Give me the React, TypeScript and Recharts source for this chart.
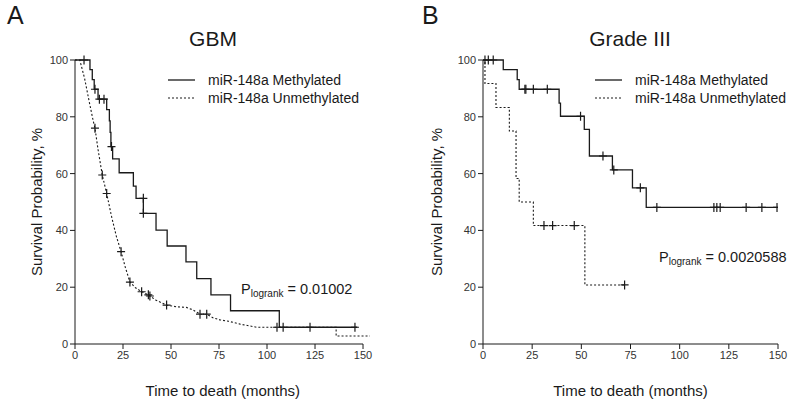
import React from "react";
import {
  ComposedChart,
  Line,
  Scatter,
  XAxis,
  YAxis,
  ReferenceLine,
} from "recharts";

// survival curves (t = months, s = survival %)
const gbmMethylated = [
  { t: 0, s: 100 }, { t: 7.8, s: 96.6 }, { t: 9, s: 93.1 }, { t: 10, s: 89.7 },
  { t: 12, s: 86.2 }, { t: 16.5, s: 82.5 }, { t: 17.9, s: 78.6 }, { t: 18.3, s: 74.5 },
  { t: 18.7, s: 69.5 }, { t: 19.6, s: 65.2 }, { t: 23, s: 60.3 }, { t: 30.4, s: 55.6 },
  { t: 31.8, s: 51.3 }, { t: 35.6, s: 46 }, { t: 42.2, s: 40.1 }, { t: 48, s: 34.5 },
  { t: 57.8, s: 28.9 }, { t: 63.4, s: 23 }, { t: 70.8, s: 17.3 }, { t: 81, s: 11.7 },
  { t: 106.4, s: 5.9 }, { t: 147, s: 5.9 },
];
const gbmMethylatedCens = [
  { t: 4.7, s: 100 }, { t: 10.4, s: 89.7 }, { t: 12.7, s: 86.2 }, { t: 15.1, s: 86.2 },
  { t: 19, s: 69.5 }, { t: 35.6, s: 51.3 }, { t: 35.6, s: 46 }, { t: 105.2, s: 5.9 },
  { t: 108.4, s: 5.9 }, { t: 122.4, s: 5.9 }, { t: 145.8, s: 5.9 },
];
const gbmUnmethylated = [
  { t: 0, s: 100 }, { t: 2.5, s: 100 }, { t: 5, s: 93.5 }, { t: 7.5, s: 85 },
  { t: 9.5, s: 78.5 }, { t: 10.4, s: 76 }, { t: 12, s: 68.5 }, { t: 14.2, s: 59.5 },
  { t: 16.5, s: 53 }, { t: 19, s: 45 }, { t: 21.5, s: 38 }, { t: 24, s: 32.5 },
  { t: 26.2, s: 27 }, { t: 28.6, s: 21.8 }, { t: 31.5, s: 19.8 }, { t: 34.7, s: 18.4 },
  { t: 38.2, s: 17.3 }, { t: 42, s: 15.5 }, { t: 47.7, s: 13.7 }, { t: 53, s: 13.1 },
  { t: 58, s: 12.9 }, { t: 61.5, s: 12 }, { t: 65.1, s: 10.5 }, { t: 68.6, s: 10.5 },
  { t: 72, s: 9.2 }, { t: 75.5, s: 8.5 }, { t: 80, s: 8 }, { t: 86, s: 7 },
  { t: 94.6, s: 5.9 }, { t: 136, s: 5.9 }, { t: 136, s: 2.8 }, { t: 153.6, s: 2.8 },
];
const gbmUnmethylatedCens = [
  { t: 10.4, s: 76 }, { t: 14.2, s: 59.5 }, { t: 16.5, s: 53 }, { t: 24, s: 32.5 },
  { t: 28.6, s: 21.8 }, { t: 34.7, s: 18.4 }, { t: 38.2, s: 17.3 }, { t: 39, s: 16.9 },
  { t: 47.7, s: 13.7 }, { t: 65.1, s: 10.5 }, { t: 68.6, s: 10.5 },
];

const g3Methylated = [
  { t: 0, s: 100 }, { t: 10.3, s: 96.6 }, { t: 17.4, s: 93.1 }, { t: 18.4, s: 89.7 },
  { t: 38.7, s: 84.8 }, { t: 39.4, s: 80.2 }, { t: 51.5, s: 75.6 }, { t: 54.1, s: 66.2 },
  { t: 65.8, s: 61.3 }, { t: 76, s: 55 }, { t: 83, s: 48.1 }, { t: 150, s: 48.1 },
];
const g3MethylatedCens = [
  { t: 1, s: 100 }, { t: 2.7, s: 100 }, { t: 5.2, s: 100 }, { t: 21.3, s: 89.7 },
  { t: 21.8, s: 89.7 }, { t: 25.6, s: 89.7 }, { t: 32.7, s: 89.7 }, { t: 49.6, s: 80.2 },
  { t: 61, s: 66.2 }, { t: 66.5, s: 61.3 }, { t: 80, s: 55 }, { t: 88.4, s: 48.1 },
  { t: 117.4, s: 48.1 }, { t: 118.9, s: 48.1 }, { t: 120.6, s: 48.1 }, { t: 133.8, s: 48.1 },
  { t: 141.8, s: 48.1 }, { t: 149.5, s: 48.1 },
];
const g3Unmethylated = [
  { t: 0, s: 100 }, { t: 1, s: 91.7 }, { t: 6.6, s: 83.3 }, { t: 13.4, s: 75 },
  { t: 16.8, s: 58.3 }, { t: 18.4, s: 50 }, { t: 25.6, s: 41.7 }, { t: 51.8, s: 20.8 },
  { t: 72, s: 20.8 },
];
const g3UnmethylatedCens = [
  { t: 31, s: 41.7 }, { t: 35.4, s: 41.7 }, { t: 46.4, s: 41.7 }, { t: 72, s: 20.8 },
];

const xTicks = [0, 25, 50, 75, 100, 125, 150];
const yTicks = [0, 20, 40, 60, 80, 100];

const FONT = "'Liberation Sans', Arial, Helvetica, sans-serif";
const INK = "#1a1a1a";

const Cross = (props: any) => {
  const { cx, cy } = props;
  if (cx == null || cy == null) return null;
  return (
    <path
      d={`M${cx - 4},${cy}H${cx + 4}M${cx},${cy - 4.5}V${cy + 4.5}`}
      stroke={INK}
      strokeWidth={1.2}
      fill="none"
    />
  );
};

interface PanelProps {
  left: number;
  letter: string;
  title: string;
  titleX: number;
  xMax: number;
  yAxisWidth: number;
  marginRight: number;
  methylated: { t: number; s: number }[];
  methylatedCens: { t: number; s: number }[];
  unmethylated: { t: number; s: number }[];
  unmethylatedCens: { t: number; s: number }[];
  smoothUnmeth: boolean;
  legendX: number;
  pValue: string;
  pX: number;
  pY: number;
}

function Panel(p: PanelProps) {
  return (
    <div style={{ position: "absolute", left: p.left, top: 0, width: 400, height: 407 }}>
      <ComposedChart
        width={400}
        height={407}
        margin={{ top: 60, right: p.marginRight, bottom: 0, left: 0 }}
      >
        <XAxis
          type="number"
          dataKey="t"
          domain={[0, p.xMax]}
          ticks={xTicks}
          allowDataOverflow
          axisLine={false}
          tickLine={{ stroke: INK }}
          tickSize={5}
          tick={{ fontSize: 11, fill: "#333", fontFamily: FONT }}
          height={63}
          label={{
            value: "Time to death (months)",
            position: "insideBottom",
            offset: 11,
            style: { fontSize: 15, fill: INK, fontFamily: FONT },
          }}
        />
        <YAxis
          type="number"
          dataKey="s"
          domain={[0, 100]}
          ticks={yTicks}
          axisLine={{ stroke: INK }}
          tickLine={{ stroke: INK }}
          tickSize={5}
          tick={{ fontSize: 11, fill: "#333", fontFamily: FONT }}
          width={p.yAxisWidth}
          label={{
            value: "Survival Probability, %",
            angle: -90,
            position: "center",
            dx: -5 - (p.yAxisWidth - 75) / 2 + 4,
            style: { fontSize: 15, fill: INK, fontFamily: FONT, textAnchor: "middle" },
          }}
        />
        <ReferenceLine
          segment={[{ x: 0, y: 0 }, { x: 150, y: 0 }]}
          stroke={INK}
          strokeWidth={1}
        />
        <Line
          data={p.unmethylated}
          dataKey="s"
          type={p.smoothUnmeth ? "linear" : "stepAfter"}
          stroke={INK}
          strokeWidth={1.1}
          strokeDasharray="2 2"
          dot={false}
          activeDot={false}
          isAnimationActive={false}
        />
        <Line
          data={p.methylated}
          dataKey="s"
          type="stepAfter"
          stroke={INK}
          strokeWidth={1.3}
          dot={false}
          activeDot={false}
          isAnimationActive={false}
        />
        <Scatter data={p.unmethylatedCens} dataKey="s" shape={<Cross />} isAnimationActive={false} />
        <Scatter data={p.methylatedCens} dataKey="s" shape={<Cross />} isAnimationActive={false} />
      </ComposedChart>

      <div style={{ position: "absolute", left: p.left === 0 ? 7 : 22, top: 1, fontSize: 25, fontFamily: FONT, color: INK }}>
        {p.letter}
      </div>
      <div
        style={{
          position: "absolute",
          left: p.titleX - 80,
          width: 160,
          top: 27,
          textAlign: "center",
          fontSize: 21,
          fontFamily: FONT,
          color: INK,
        }}
      >
        {p.title}
      </div>

      <svg style={{ position: "absolute", left: p.legendX, top: 72 }} width={28} height={30}>
        <line x1={0} x2={27} y1={8} y2={8} stroke={INK} strokeWidth={1.3} />
        <line x1={0} x2={27} y1={26} y2={26} stroke={INK} strokeWidth={1.1} strokeDasharray="2 2" />
      </svg>
      <div
        style={{
          position: "absolute",
          left: p.legendX + 40,
          top: 71,
          fontSize: 14,
          lineHeight: "18px",
          fontFamily: FONT,
          color: INK,
          whiteSpace: "nowrap",
        }}
      >
        <div>miR-148a Methylated</div>
        <div>miR-148a Unmethylated</div>
      </div>

      <div
        style={{
          position: "absolute",
          left: p.pX,
          top: p.pY,
          fontSize: 14.5,
          fontFamily: FONT,
          color: INK,
          whiteSpace: "nowrap",
        }}
      >
        P<span style={{ fontSize: 10, position: "relative", top: 3, color: INK }}>logrank</span> = {p.pValue}
      </div>
    </div>
  );
}

export default function App() {
  return (
    <div
      style={{
        position: "fixed",
        left: 0,
        top: 0,
        width: 800,
        height: 407,
        background: "#fff",
        overflow: "hidden",
      }}
    >
      <Panel
        left={0}
        letter="A"
        title="GBM"
        titleX={213}
        xMax={154}
        yAxisWidth={75}
        marginRight={29.3}
        methylated={gbmMethylated}
        methylatedCens={gbmMethylatedCens}
        unmethylated={gbmUnmethylated}
        unmethylatedCens={gbmUnmethylatedCens}
        smoothUnmeth
        legendX={168}
        pValue="0.01002"
        pX={241}
        pY={281}
      />
      <Panel
        left={400}
        letter="B"
        title="Grade III"
        titleX={230}
        xMax={150}
        yAxisWidth={83}
        marginRight={22}
        methylated={g3Methylated}
        methylatedCens={g3MethylatedCens}
        unmethylated={g3Unmethylated}
        unmethylatedCens={g3UnmethylatedCens}
        smoothUnmeth={false}
        legendX={195}
        pValue="0.0020588"
        pX={259}
        pY={249}
      />
    </div>
  );
}
